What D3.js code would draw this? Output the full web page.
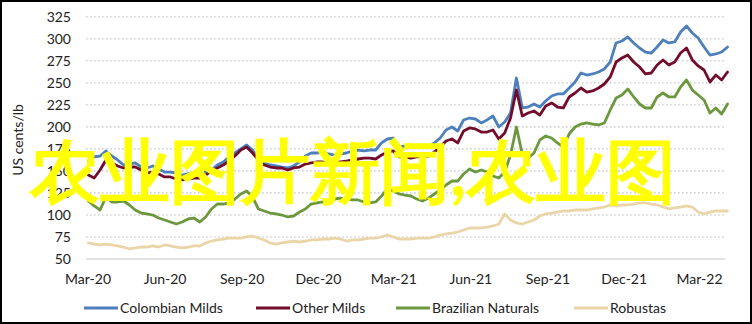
<!DOCTYPE html>
<html><head><meta charset="utf-8">
<script src="https://cdn.jsdelivr.net/npm/d3@7/dist/d3.min.js"></script>
<style>
html,body{margin:0;padding:0;background:#fff;}
svg{display:block;}
text{font-family:Lato,"Open Sans",sans-serif;}
</style></head>
<body><svg id="chart" width="752" height="324"></svg>
<script>
// ---- data (weekly observations, US cents/lb) ----
const startDate = "2020-03-02";
const xTickLabels = ["Mar-20","Jun-20","Sep-20","Dec-20","Mar-21","Jun-21","Sep-21","Dec-21","Mar-22"];
const yTickValues = [50,75,100,125,150,175,200,225,250,275,300,325];
const seriesNames = ["Colombian Milds","Other Milds","Brazilian Naturals","Robustas"];
const seriesColors = ["#4c7fbc","#720c2a","#6b983c","#ead5a8"];

const colombianMilds = [161.2,165.8,166.9,172.6,166.9,162.4,156.7,157.8,159,154.4,153.3,155.6,152.2,148.7,148.7,147.6,145.3,146.5,147.6,145.3,
148.7,151,156.7,160.1,165.8,170.3,174.9,179.4,173.7,164.6,159,156.7,155.6,154.4,153.3,155.6,160.1,166.9,170.3,170.3,
171.4,169.2,168,169.2,170.3,172.6,173.7,172.6,173.7,173.7,181.7,186.2,187.3,177.1,178.3,177.1,178.3,178.3,177.1,181.7,
187.3,196.4,199.8,195.3,207.8,210,208.9,204.4,207.8,212.3,199.8,205.5,215.7,255.4,221.4,222.5,225.9,222.5,229.3,235,
237.3,237.3,244.1,250.9,261.1,258.8,260,262.2,265.7,273.6,295.2,297.4,302,295.2,289.5,284.9,283.8,290.6,298.6,295.2,
296.3,307.6,314.5,306.5,300.8,290.6,281.5,282.7,284.9,290.6];

const otherMilds = [145.3,141.9,151,162.4,159,155.6,153.3,154.4,154.4,151,147.6,148.7,146.5,143.1,143.1,140.8,139.7,140.8,141.9,141.9,
145.3,149.9,153.3,156.7,161.2,166.9,173.7,177.1,170.3,162.4,156.7,154.4,153.3,153.3,151,153.3,154.4,157.8,159,160.1,
160.1,157.8,159,160.1,161.2,162.4,163.5,164.6,164.6,163.5,168,171.4,172.6,165.8,165.8,164.6,165.8,165.8,166.9,171.4,
177.1,183.9,186.2,181.7,195.3,198.7,197.6,194.1,194.1,196.4,186.2,193,210,241.8,212.3,215.7,218,213.4,223.7,227.1,
222.5,221.4,233.9,238.4,244.1,239.5,240.7,244.1,248.6,256.6,273.6,278.1,281.5,273.6,267.9,260,261.1,270.2,275.9,270.2,
273.6,283.8,289.5,275.9,269.1,264.5,250.9,258.8,253.2,262.2];

const brazilianNaturals = [115.8,110.2,105.6,120.4,114.7,114.7,115.8,111.3,105.6,102.2,101.1,99.9,96.5,94.3,92,89.7,92,95.4,96.5,92,
97.7,106.8,112.4,112.4,113.6,118.1,123.8,127.2,120.4,106.8,104.5,102.2,101.1,99.9,97.7,98.8,103.3,106.8,112.4,113.6,
114.7,117,118.1,119.2,118.1,117,117,114.7,113.6,114.7,121.5,129.5,127.2,123.8,122.6,121.5,118.1,115.8,119.2,123.8,
128.3,134,138.5,138.5,146.5,152.2,148.7,151,148.7,144.2,141.9,148.7,168,199.8,169.2,164.6,170.3,185.1,189.6,187.3,
181.7,177.1,191.9,199.8,203.2,204.4,203.2,202.1,204.4,219.1,232.7,236.1,243,233.9,225.9,221.4,221.4,233.9,238.4,233.9,
233.9,245.2,253.2,241.8,236.1,230.5,215.7,221.4,214.6,225.9];

const robustas = [68.2,67,65.9,67,65.9,64.8,63.6,61.4,62.5,63.6,63.6,64.8,63.6,65.9,64.8,63.6,62.5,63.6,64.8,64.8,
68.2,70.4,71.6,72.7,73.8,73.8,73.8,75,76.1,73.8,71.6,68.2,67,68.2,69.3,70.4,69.3,70.4,71.6,71.6,
72.7,72.7,73.8,72.7,70.4,71.6,71.6,72.7,73.8,73.8,75,77.2,75,72.7,72.7,72.7,73.8,73.8,73.8,75,
77.2,78.4,79.5,80.6,82.9,85.2,85.2,85.2,86.3,87.5,89.7,101.1,94.3,90.9,89.7,92,94.3,98.8,101.1,102.2,
103.3,104.5,104.5,105.6,105.6,105.6,106.8,107.9,109,111.3,110.2,111.3,111.3,112.4,113.6,113.6,112.4,111.3,109,106.8,
107.9,109,110.2,109,103.3,101.1,103.3,104.5,104.5,104.5];

const watermark = "农业图片新闻,农业图";

// ---- build ----
const parseDay = d3.timeParse("%Y-%m-%d");
const parseTick = d3.timeParse("%b-%y");
const start = parseDay(startDate);
const allSeries = [colombianMilds, otherMilds, brazilianNaturals, robustas];
const dates = colombianMilds.map((_, i) => d3.timeDay.offset(start, 7 * i));

const svg = d3.select("#chart");
const x = d3.scaleTime()
  .domain([parseDay("2020-03-01"), parseDay("2022-04-01")])
  .range([87.5, 725]);
const y = d3.scaleLinear().domain([50, 325]).range([259, 16.7]);
const plotLeft = 86, plotRight = 725;

// gridlines
svg.append("g").selectAll("line").data(yTickValues.filter(v => v > 50)).join("line")
  .attr("x1", plotLeft).attr("x2", plotRight)
  .attr("y1", d => y(d)).attr("y2", d => y(d))
  .attr("stroke", "#d3d3d3").attr("stroke-width", 1.6)
  .attr("stroke-dasharray", "1.6,2.4");
svg.append("line")
  .attr("x1", plotLeft).attr("x2", plotRight)
  .attr("y1", y(50)).attr("y2", y(50))
  .attr("stroke", "#d9d9d9").attr("stroke-width", 1.6);

// y axis
const yAxis = d3.axisLeft(y).tickValues(yTickValues).tickSize(0).tickPadding(0);
const gy = svg.append("g").attr("transform", "translate(71,0)").call(yAxis);
gy.select(".domain").remove();
gy.selectAll("text").attr("font-size", 14).attr("fill", "#222")
  .attr("font-family", "Lato, sans-serif");

// x axis
const xAxis = d3.axisBottom(x).tickValues(xTickLabels.map(parseTick))
  .tickFormat(d3.timeFormat("%b-%y")).tickSize(0).tickPadding(0);
const gx = svg.append("g").attr("transform", "translate(0,274)").call(xAxis);
gx.select(".domain").remove();
gx.selectAll("text").attr("font-size", 14).attr("fill", "#222")
  .attr("font-family", "Lato, sans-serif").attr("dy", "0.71em");

// y title
svg.append("text")
  .attr("transform", "translate(23,140) rotate(-90)")
  .attr("text-anchor", "middle")
  .attr("font-size", 14).attr("fill", "#222")
  .text("US cents/lb");

// lines
const line = d3.line().x((d, i) => x(dates[i])).y(d => y(d));
svg.append("g").selectAll("path").data(allSeries).join("path")
  .attr("d", d => line(d))
  .attr("fill", "none")
  .attr("stroke", (d, i) => seriesColors[i])
  .attr("stroke-width", 2.8)
  .attr("stroke-linejoin", "round")
  .attr("stroke-linecap", "round");

// legend
const legendX = [84, 256, 396, 574];
const items = svg.append("g").selectAll("g").data(seriesNames).join("g")
  .attr("transform", (d, i) => `translate(${legendX[i]},308)`);
items.append("line").attr("x1", 0).attr("x2", 34).attr("y1", 0).attr("y2", 0)
  .attr("stroke", (d, i) => seriesColors[i]).attr("stroke-width", 3);
items.append("text").attr("x", 36).attr("y", 0).attr("dy", "0.35em")
  .attr("font-size", 14).attr("fill", "#222").text(d => d);

// watermark
svg.append("text")
  .attr("x", 30).attr("y", 196)
  .attr("font-family", "'Noto Sans CJK SC', sans-serif")
  .attr("font-size", 70).attr("font-weight", "bold")
  .attr("fill", "#ffff00")
  .text(watermark);

// frame
svg.append("rect").attr("x", 1).attr("y", 1).attr("width", 750).attr("height", 322)
  .attr("fill", "none").attr("stroke", "#000").attr("stroke-width", 2);
</script></body></html>
